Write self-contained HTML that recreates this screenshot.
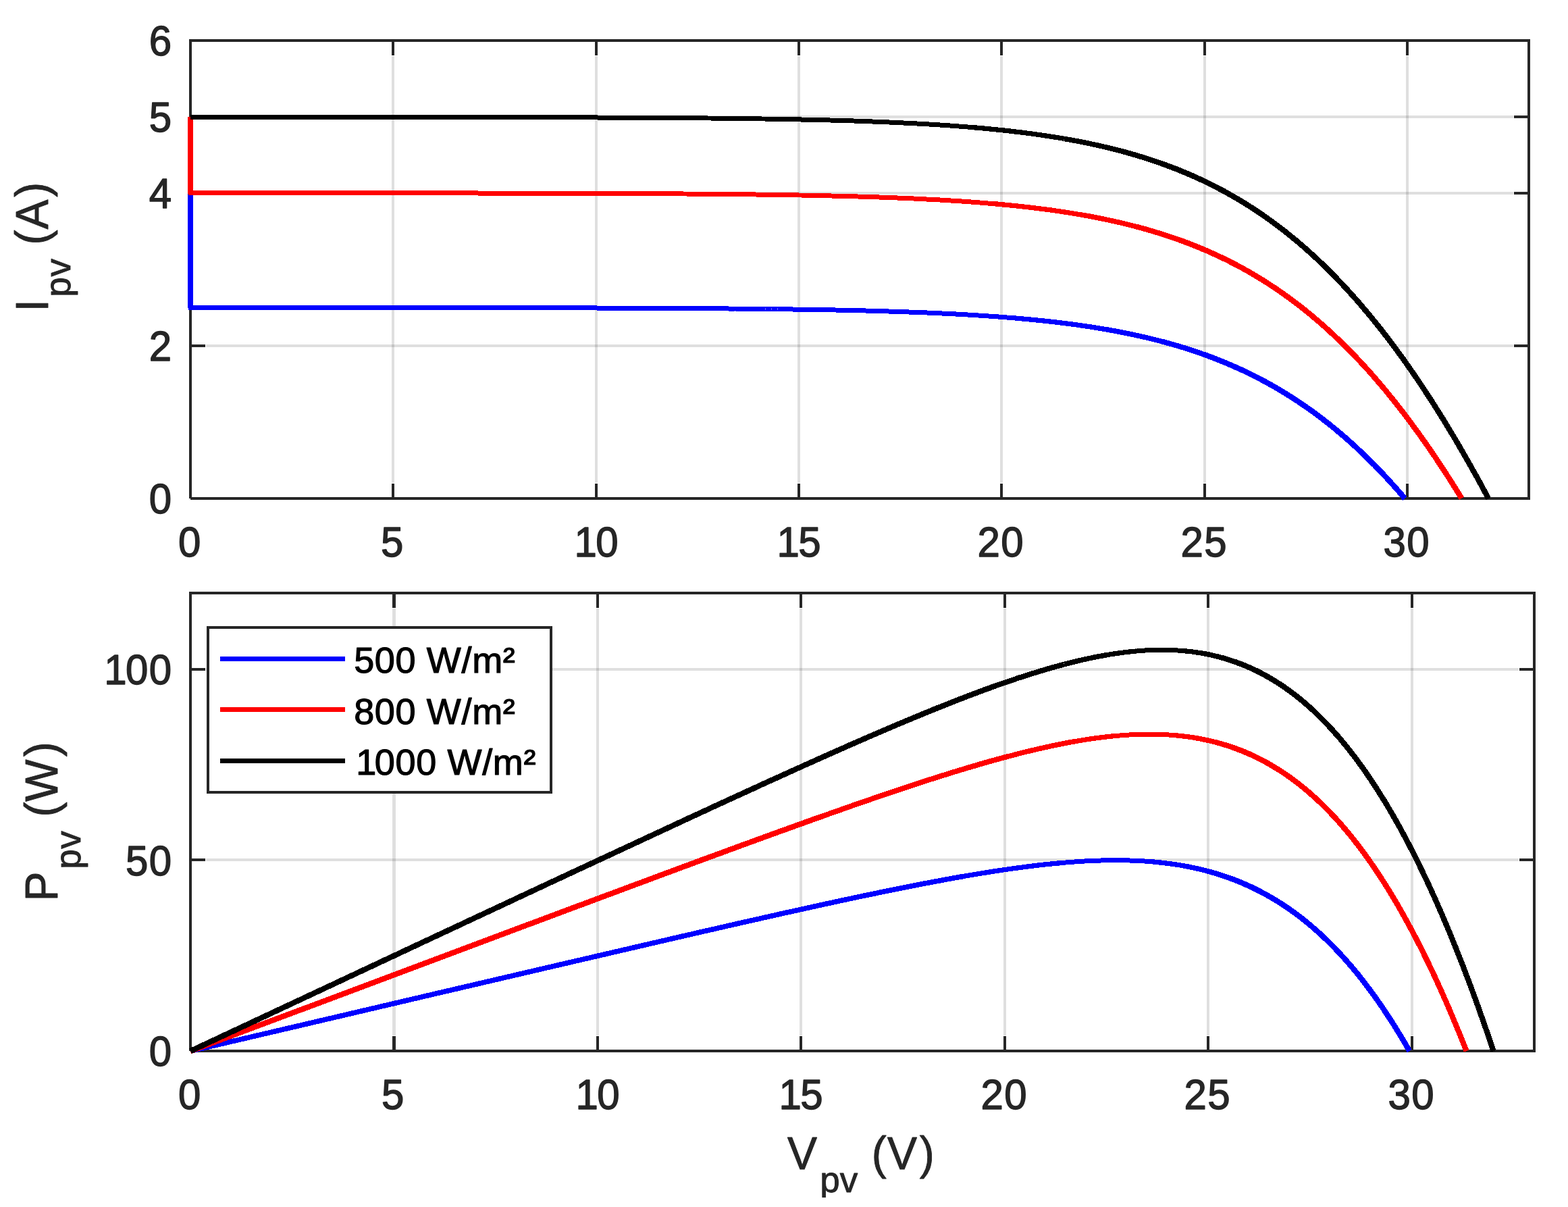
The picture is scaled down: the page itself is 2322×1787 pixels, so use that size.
<!DOCTYPE html>
<html lang="en">
<head>
<meta charset="utf-8">
<title>PV module I-V and P-V characteristics at 500, 800 and 1000 W/m²</title>
<style>
html,body{margin:0;padding:0;background:#fff;}
body{width:2322px;height:1787px;overflow:hidden;}
svg{display:block;}
text{font-family:"Liberation Sans",Arial,Helvetica,sans-serif;white-space:pre;}
.ax{fill:none;stroke:#262626;stroke-width:4;shape-rendering:crispEdges;}
.gr{fill:none;stroke:#262626;stroke-opacity:0.15;stroke-width:4;shape-rendering:crispEdges;}
.cv{fill:none;stroke-linejoin:round;stroke-linecap:butt;shape-rendering:crispEdges;}
</style>
</head>
<body>
<svg width="2322" height="1787" viewBox="0 0 2322 1787">
<rect x="0" y="0" width="2322" height="1787" fill="#ffffff"/>
<g id="iv-axes">
<path class="gr" d="M582,83V715 M883,83V715 M1183,83V715 M1483,83V715 M1784,83V715 M2084,83V715"/>
<path class="gr" d="M305,512H2241 M305,286H2241 M305,173H2241"/>
<path class="ax" d="M582,738v-22M582,60v22 M883,738v-22M883,60v22 M1183,738v-22M1183,60v22 M1483,738v-22M1483,60v22 M1784,738v-22M1784,60v22 M2084,738v-22M2084,60v22"/>
<path class="ax" d="M282,512h22M2264,512h-22 M282,286h22M2264,286h-22 M282,173h22M2264,173h-22"/>
<path class="ax" d="M282,58V738M280,60H2266M2264,58V740M282,738H2266"/>
<path class="cv" stroke="#0000ff" stroke-width="8" d="M282,286.0V456.3"/>
<path class="cv" stroke="#0000ff" stroke-width="7.0" d="M279.3,455.5 282.0,455.5 462.2,455.5 642.4,455.6 822.5,455.8 1002.7,456.4 1007.2,456.5 1011.7,456.5 1016.3,456.5 1020.8,456.5 1025.3,456.6 1029.8,456.6 1034.3,456.6 1038.8,456.7 1043.3,456.7 1047.8,456.7 1052.3,456.8 1056.8,456.8 1061.3,456.8 1065.9,456.9 1070.4,456.9 1074.9,456.9 1079.4,457.0 1083.9,457.0 1088.4,457.0 1092.9,457.1 1097.4,457.1 1101.9,457.2 1106.4,457.2 1111.0,457.2 1115.5,457.3 1120.0,457.3 1124.5,457.4 1129.0,457.4 1133.5,457.5 1138.0,457.5 1142.5,457.6 1147.0,457.6 1151.5,457.7 1156.0,457.7 1160.6,457.8 1165.1,457.9 1169.6,457.9 1174.1,458.0 1178.6,458.0 1183.1,458.1 1187.6,458.2 1192.1,458.2 1196.6,458.3 1201.1,458.4 1205.6,458.5 1210.2,458.5 1214.7,458.6 1219.2,458.7 1223.7,458.8 1228.2,458.9 1232.7,458.9 1237.2,459.0 1241.7,459.1 1246.2,459.2 1250.7,459.3 1255.2,459.4 1259.8,459.5 1264.3,459.6 1268.8,459.7 1273.3,459.8 1277.8,459.9 1282.3,460.0 1286.8,460.2 1291.3,460.3 1295.8,460.4 1300.3,460.5 1304.9,460.7 1309.4,460.8 1313.9,460.9 1318.4,461.1 1322.9,461.2 1327.4,461.3 1331.9,461.5 1336.4,461.6 1340.9,461.8 1345.4,462.0 1349.9,462.1 1354.5,462.3 1359.0,462.5 1363.5,462.6 1368.0,462.8 1372.5,463.0 1377.0,463.2 1381.5,463.4 1386.0,463.6 1390.5,463.8 1395.0,464.0 1399.5,464.2 1404.1,464.5 1408.6,464.7 1413.1,464.9 1417.6,465.1 1422.1,465.4 1426.6,465.6 1431.1,465.9 1435.6,466.2 1440.1,466.4 1444.6,466.7 1449.1,467.0 1453.7,467.3 1458.2,467.6 1462.7,467.9 1467.2,468.2 1471.7,468.5 1476.2,468.8 1480.7,469.2 1485.2,469.5 1489.7,469.9 1494.2,470.2 1498.8,470.6 1503.3,471.0"/><path class="cv" stroke="#0000ff" stroke-width="7.3" d="M1503.3,471.0 1507.8,471.4 1512.3,471.8 1516.8,472.2 1521.3,472.6 1525.8,473.0 1530.3,473.5 1534.8,473.9 1539.3,474.4 1543.8,474.8 1548.4,475.3 1552.9,475.8 1557.4,476.3 1561.9,476.8 1566.4,477.4 1570.9,477.9 1575.4,478.5 1579.9,479.0 1584.4,479.6 1588.9,480.2 1593.4,480.8 1598.0,481.5 1602.5,482.1 1607.0,482.8 1611.5,483.4 1616.0,484.1 1620.5,484.8 1625.0,485.6 1629.5,486.3 1634.0,487.1 1638.5,487.8"/><path class="cv" stroke="#0000ff" stroke-width="7.6" d="M1638.5,487.8 1643.0,488.6 1647.6,489.4 1652.1,490.3 1656.6,491.1 1661.1,492.0 1665.6,492.9 1670.1,493.8 1674.6,494.7 1679.1,495.7 1683.6,496.7 1688.1,497.7 1692.7,498.7 1697.2,499.7 1701.7,500.8 1706.2,501.9 1710.7,503.0 1715.2,504.2 1719.7,505.3"/><path class="cv" stroke="#0000ff" stroke-width="7.9" d="M1719.7,505.3 1724.2,506.5 1728.7,507.8 1733.2,509.0 1737.7,510.3 1742.3,511.6 1746.8,513.0 1751.3,514.3 1755.8,515.7 1760.3,517.2 1764.8,518.6 1769.3,520.1 1773.8,521.6 1778.3,523.2 1782.8,524.8"/><path class="cv" stroke="#0000ff" stroke-width="8.2" d="M1782.8,524.8 1787.3,526.4 1791.9,528.1 1796.4,529.8 1800.9,531.5 1805.4,533.3 1809.9,535.1 1814.4,537.0 1818.9,538.9 1823.4,540.8 1827.9,542.8 1832.4,544.8 1836.9,546.8 1841.5,548.9 1846.0,551.0 1850.5,553.2 1855.0,555.5 1859.5,557.7 1864.0,560.0 1868.5,562.4 1873.0,564.8 1877.5,567.3 1882.0,569.8 1886.6,572.3 1891.1,574.9 1895.6,577.6 1900.1,580.3 1904.6,583.1 1909.1,585.9 1913.6,588.7 1918.1,591.7 1922.6,594.6 1927.1,597.7 1931.6,600.7 1936.2,603.9 1940.7,607.1 1945.2,610.3 1949.7,613.7 1954.2,617.0 1958.7,620.5 1963.2,624.0 1967.7,627.5 1972.2,631.1 1976.7,634.8 1981.2,638.6 1985.8,642.4 1990.3,646.2 1994.8,650.2 1999.3,654.2 2003.8,658.3 2008.3,662.4 2012.8,666.6 2017.3,670.9 2021.8,675.2 2026.3,679.6 2030.8,684.1 2035.4,688.6 2039.9,693.2 2044.4,697.9 2048.9,702.7 2053.4,707.5 2057.9,712.4 2062.4,717.4 2066.9,722.4 2071.4,727.5 2075.9,732.7 2080.5,738.0"/>
<path class="cv" stroke="#ff0000" stroke-width="8" d="M282,173.0V286.8"/>
<path class="cv" stroke="#ff0000" stroke-width="7.0" d="M279.3,285.8 282.0,285.8 462.2,285.8 642.4,285.9 822.5,286.2 1002.7,286.9 1007.6,286.9 1012.4,287.0 1017.3,287.0 1022.2,287.1 1027.0,287.1 1031.9,287.1 1036.8,287.2 1041.6,287.2 1046.5,287.2 1051.3,287.3 1056.2,287.3 1061.1,287.4 1065.9,287.4 1070.8,287.5 1075.6,287.5 1080.5,287.6 1085.4,287.6 1090.2,287.7 1095.1,287.7 1099.9,287.8 1104.8,287.8 1109.7,287.9 1114.5,287.9 1119.4,288.0 1124.2,288.1 1129.1,288.1 1134.0,288.2 1138.8,288.3 1143.7,288.3 1148.6,288.4 1153.4,288.5 1158.3,288.5 1163.1,288.6 1168.0,288.7 1172.9,288.8 1177.7,288.9 1182.6,289.0 1187.4,289.0 1192.3,289.1 1197.2,289.2 1202.0,289.3 1206.9,289.4 1211.7,289.5 1216.6,289.6 1221.5,289.7 1226.3,289.8 1231.2,290.0 1236.0,290.1 1240.9,290.2 1245.8,290.3 1250.6,290.4 1255.5,290.6 1260.4,290.7 1265.2,290.8 1270.1,291.0 1274.9,291.1 1279.8,291.3 1284.7,291.4 1289.5,291.6 1294.4,291.7 1299.2,291.9 1304.1,292.1 1309.0,292.2 1313.8,292.4 1318.7,292.6 1323.5,292.8 1328.4,293.0 1333.3,293.2 1338.1,293.4 1343.0,293.6 1347.8,293.8 1352.7,294.0 1357.6,294.2 1362.4,294.5 1367.3,294.7 1372.1,295.0 1377.0,295.2 1381.9,295.5 1386.7,295.7 1391.6,296.0 1396.5,296.3 1401.3,296.6 1406.2,296.9 1411.0,297.2 1415.9,297.5 1420.8,297.8 1425.6,298.1 1430.5,298.5 1435.3,298.8 1440.2,299.2 1445.1,299.5 1449.9,299.9 1454.8,300.3 1459.6,300.7 1464.5,301.1"/><path class="cv" stroke="#ff0000" stroke-width="7.3" d="M1464.5,301.1 1469.4,301.5 1474.2,301.9 1479.1,302.3 1483.9,302.8 1488.8,303.3 1493.7,303.7 1498.5,304.2 1503.4,304.7 1508.3,305.2 1513.1,305.7 1518.0,306.3 1522.8,306.8 1527.7,307.4 1532.6,308.0 1537.4,308.6 1542.3,309.2 1547.1,309.8 1552.0,310.5 1556.9,311.1 1561.7,311.8 1566.6,312.5 1571.4,313.2 1576.3,314.0 1581.2,314.7 1586.0,315.5 1590.9,316.3 1595.7,317.1 1600.6,317.9"/><path class="cv" stroke="#ff0000" stroke-width="7.6" d="M1600.6,317.9 1605.5,318.8 1610.3,319.6 1615.2,320.5 1620.1,321.4 1624.9,322.4 1629.8,323.4 1634.6,324.3 1639.5,325.4 1644.4,326.4 1649.2,327.5 1654.1,328.6 1658.9,329.7 1663.8,330.8 1668.7,332.0 1673.5,333.2 1678.4,334.4 1683.2,335.7"/><path class="cv" stroke="#ff0000" stroke-width="7.9" d="M1683.2,335.7 1688.1,337.0 1693.0,338.3 1697.8,339.7 1702.7,341.1 1707.5,342.5 1712.4,344.0 1717.3,345.5 1722.1,347.0 1727.0,348.6 1731.8,350.2 1736.7,351.8 1741.6,353.5 1746.4,355.2"/><path class="cv" stroke="#ff0000" stroke-width="8.2" d="M1746.4,355.2 1751.3,357.0 1756.2,358.8 1761.0,360.6 1765.9,362.5 1770.7,364.5 1775.6,366.4 1780.5,368.5 1785.3,370.5 1790.2,372.6 1795.0,374.8 1799.9,377.0 1804.8,379.3 1809.6,381.6 1814.5,383.9 1819.3,386.3 1824.2,388.8 1829.1,391.3 1833.9,393.9 1838.8,396.5 1843.6,399.2 1848.5,401.9 1853.4,404.7 1858.2,407.6 1863.1,410.5 1868.0,413.5 1872.8,416.5 1877.7,419.6 1882.5,422.8 1887.4,426.0 1892.3,429.3 1897.1,432.7 1902.0,436.1 1906.8,439.6 1911.7,443.1 1916.6,446.7 1921.4,450.4 1926.3,454.2 1931.1,458.0 1936.0,462.0 1940.9,465.9 1945.7,470.0 1950.6,474.1 1955.4,478.3 1960.3,482.6 1965.2,487.0 1970.0,491.4 1974.9,495.9 1979.7,500.5 1984.6,505.2 1989.5,509.9 1994.3,514.7 1999.2,519.6 2004.1,524.6 2008.9,529.7 2013.8,534.9 2018.6,540.1 2023.5,545.4 2028.4,550.8 2033.2,556.3 2038.1,561.9 2042.9,567.6 2047.8,573.3 2052.7,579.1 2057.5,585.1 2062.4,591.1 2067.2,597.2 2072.1,603.3 2077.0,609.6 2081.8,616.0 2086.7,622.4 2091.5,629.0 2096.4,635.6 2101.3,642.3 2106.1,649.1 2111.0,656.0 2115.9,663.0 2120.7,670.1 2125.6,677.2 2130.4,684.5 2135.3,691.8 2140.2,699.2 2145.0,706.8 2149.9,714.4 2154.7,722.1 2159.6,729.9 2164.5,737.8"/>
<path class="cv" stroke="#000000" stroke-width="7.0" d="M282.0,173.3 462.2,173.3 642.4,173.4 822.5,173.7 1002.7,174.6 1007.8,174.6 1012.8,174.7 1017.8,174.7 1022.8,174.8 1027.9,174.8 1032.9,174.8 1037.9,174.9 1042.9,174.9 1048.0,175.0 1053.0,175.0 1058.0,175.1 1063.1,175.1 1068.1,175.2 1073.1,175.2 1078.1,175.3 1083.2,175.4 1088.2,175.4 1093.2,175.5 1098.3,175.5 1103.3,175.6 1108.3,175.7 1113.3,175.7 1118.4,175.8 1123.4,175.9 1128.4,176.0 1133.4,176.0 1138.5,176.1 1143.5,176.2 1148.5,176.3 1153.6,176.4 1158.6,176.5 1163.6,176.6 1168.6,176.6 1173.7,176.7 1178.7,176.8 1183.7,176.9 1188.8,177.1 1193.8,177.2 1198.8,177.3 1203.8,177.4 1208.9,177.5 1213.9,177.6 1218.9,177.8 1223.9,177.9 1229.0,178.0 1234.0,178.1 1239.0,178.3 1244.1,178.4 1249.1,178.6 1254.1,178.7 1259.1,178.9 1264.2,179.0 1269.2,179.2 1274.2,179.4 1279.3,179.5 1284.3,179.7 1289.3,179.9 1294.3,180.1 1299.4,180.3 1304.4,180.5 1309.4,180.7 1314.4,180.9 1319.5,181.1 1324.5,181.3 1329.5,181.6 1334.6,181.8 1339.6,182.1 1344.6,182.3 1349.6,182.6 1354.7,182.8 1359.7,183.1 1364.7,183.4 1369.7,183.7 1374.8,183.9 1379.8,184.3 1384.8,184.6 1389.9,184.9 1394.9,185.2 1399.9,185.5 1404.9,185.9 1410.0,186.2 1415.0,186.6 1420.0,187.0 1425.1,187.4 1430.1,187.8 1435.1,188.2 1440.1,188.6"/><path class="cv" stroke="#000000" stroke-width="7.3" d="M1440.1,188.6 1445.2,189.0 1450.2,189.5 1455.2,189.9 1460.2,190.4 1465.3,190.9 1470.3,191.4 1475.3,191.9 1480.4,192.4 1485.4,192.9 1490.4,193.5 1495.4,194.0 1500.5,194.6 1505.5,195.2 1510.5,195.8 1515.6,196.4 1520.6,197.1 1525.6,197.7 1530.6,198.4 1535.7,199.1 1540.7,199.8 1545.7,200.6 1550.7,201.3 1555.8,202.1 1560.8,202.9 1565.8,203.7 1570.9,204.5 1575.9,205.4"/><path class="cv" stroke="#000000" stroke-width="7.6" d="M1575.9,205.4 1580.9,206.3 1585.9,207.2 1591.0,208.1 1596.0,209.1 1601.0,210.0 1606.1,211.0 1611.1,212.1 1616.1,213.1 1621.1,214.2 1626.2,215.3 1631.2,216.5 1636.2,217.6 1641.2,218.8 1646.3,220.1 1651.3,221.3 1656.3,222.6 1661.4,223.9"/><path class="cv" stroke="#000000" stroke-width="7.9" d="M1661.4,223.9 1666.4,225.3 1671.4,226.7 1676.4,228.1 1681.5,229.6 1686.5,231.1 1691.5,232.6 1696.5,234.2 1701.6,235.8 1706.6,237.5 1711.6,239.2 1716.7,240.9 1721.7,242.7"/><path class="cv" stroke="#000000" stroke-width="8.2" d="M1721.7,242.7 1726.7,244.5 1731.7,246.4 1736.8,248.3 1741.8,250.2 1746.8,252.2 1751.9,254.3 1756.9,256.4 1761.9,258.5 1766.9,260.7 1772.0,263.0 1777.0,265.3 1782.0,267.6 1787.0,270.1 1792.1,272.5 1797.1,275.0 1802.1,277.6 1807.2,280.3 1812.2,282.9 1817.2,285.7 1822.2,288.5 1827.3,291.4 1832.3,294.3 1837.3,297.3 1842.4,300.4 1847.4,303.5 1852.4,306.7 1857.4,310.0 1862.5,313.3 1867.5,316.7 1872.5,320.2 1877.5,323.7 1882.6,327.3 1887.6,331.0 1892.6,334.8 1897.7,338.6 1902.7,342.5 1907.7,346.5 1912.7,350.6 1917.8,354.7 1922.8,358.9 1927.8,363.2 1932.9,367.6 1937.9,372.1 1942.9,376.6 1947.9,381.2 1953.0,385.9 1958.0,390.7 1963.0,395.6 1968.0,400.6 1973.1,405.6 1978.1,410.8 1983.1,416.0 1988.2,421.3 1993.2,426.7 1998.2,432.2 2003.2,437.8 2008.3,443.4 2013.3,449.2 2018.3,455.1 2023.3,461.0 2028.4,467.0 2033.4,473.2 2038.4,479.4 2043.5,485.7 2048.5,492.1 2053.5,498.6 2058.5,505.2 2063.6,511.9 2068.6,518.7 2073.6,525.6 2078.7,532.6 2083.7,539.7 2088.7,546.8 2093.7,554.1 2098.8,561.5 2103.8,568.9 2108.8,576.5 2113.8,584.1 2118.9,591.9 2123.9,599.7 2128.9,607.7 2134.0,615.7 2139.0,623.9 2144.0,632.1 2149.0,640.4 2154.1,648.8 2159.1,657.3 2164.1,666.0 2169.2,674.7 2174.2,683.5 2179.2,692.4 2184.2,701.3 2189.3,710.4 2194.3,719.6 2199.3,728.9 2204.3,738.2"/>
<text transform="translate(220.04,760.10) scale(0.96,1.0)" font-size="62.5" fill="#262626" stroke="#262626" stroke-width="1.43" stroke-linejoin="round" x="0.72" y="0">0</text>
<text transform="translate(220.04,534.10) scale(0.96,1.0)" font-size="62.5" fill="#262626" stroke="#262626" stroke-width="1.43" stroke-linejoin="round" x="0.72" y="0">2</text>
<text transform="translate(220.04,308.10) scale(0.96,1.0)" font-size="62.5" fill="#262626" stroke="#262626" stroke-width="1.43" stroke-linejoin="round" x="0.72" y="0">4</text>
<text transform="translate(220.04,195.10) scale(0.96,1.0)" font-size="62.5" fill="#262626" stroke="#262626" stroke-width="1.43" stroke-linejoin="round" x="0.72" y="0">5</text>
<text transform="translate(220.04,82.10) scale(0.96,1.0)" font-size="62.5" fill="#262626" stroke="#262626" stroke-width="1.43" stroke-linejoin="round" x="0.72" y="0">6</text>
<text transform="translate(263.27,823.90) scale(0.96,1.0)" font-size="62.5" fill="#262626" stroke="#262626" stroke-width="1.43" stroke-linejoin="round" x="0.72" y="0">0</text>
<text transform="translate(563.27,823.90) scale(0.96,1.0)" font-size="62.5" fill="#262626" stroke="#262626" stroke-width="1.43" stroke-linejoin="round" x="0.72" y="0">5</text>
<text transform="translate(846.89,823.90) scale(0.96,1.0)" font-size="62.5" fill="#262626" stroke="#262626" stroke-width="1.43" stroke-linejoin="round" x="3.85 36.94" y="0">10</text>
<text transform="translate(1146.89,823.90) scale(0.96,1.0)" font-size="62.5" fill="#262626" stroke="#262626" stroke-width="1.43" stroke-linejoin="round" x="3.85 36.94" y="0">15</text>
<text transform="translate(1446.89,823.90) scale(0.96,1.0)" font-size="62.5" fill="#262626" stroke="#262626" stroke-width="1.43" stroke-linejoin="round" x="0.72 36.94" y="0">20</text>
<text transform="translate(1747.89,823.90) scale(0.96,1.0)" font-size="62.5" fill="#262626" stroke="#262626" stroke-width="1.43" stroke-linejoin="round" x="0.72 36.94" y="0">25</text>
<text transform="translate(2047.89,823.90) scale(0.96,1.0)" font-size="62.5" fill="#262626" stroke="#262626" stroke-width="1.43" stroke-linejoin="round" x="0.72 36.94" y="0">30</text>
<g><text transform="translate(71.00,462.00) rotate(-90) scale(0.96,1.0)" font-size="68.75" fill="#262626" stroke="#262626" stroke-width="0.92" stroke-linejoin="round" x="0.55 103.64 127.49 177.25" y="0">I(A)</text><text transform="translate(104.00,462.00) rotate(-90) scale(1.0,1.0)" font-size="53.0" fill="#262626" stroke="#262626" stroke-width="0.90" stroke-linejoin="round" x="22.18 52.60" y="0">pv</text></g>
</g>
<g id="pv-axes">
<path class="gr" d="M885,901V1533 M1186,901V1533 M1488,901V1533 M1789,901V1533 M2091,901V1533"/>
<path class="gr" style="stroke-width:5" d="M583.5,901V1533"/>
<path class="gr" d="M305,1273H2249 M305,991H2249"/>
<path class="ax" d="M885,1556v-22M885,878v22 M1186,1556v-22M1186,878v22 M1488,1556v-22M1488,878v22 M1789,1556v-22M1789,878v22 M2091,1556v-22M2091,878v22"/>
<path class="ax" style="stroke-width:5" d="M583.5,1556v-22M583.5,878v22"/>
<path class="ax" d="M282,1273h22M2272,1273h-22 M282,991h22M2272,991h-22"/>
<path class="ax" d="M282,876V1556M280,878H2274M2272,876V1558M282,1556H2274"/>
<path class="cv" stroke="#0000ff" stroke-width="7.6" d="M282.0,1556.2 462.9,1513.9 643.7,1471.5 824.6,1429.3 1005.5,1387.3 1010.0,1386.3 1014.5,1385.2 1019.1,1384.2 1023.6,1383.2 1028.1,1382.1 1032.6,1381.1 1037.2,1380.0 1041.7,1379.0 1046.2,1378.0 1050.7,1376.9 1055.3,1375.9 1059.8,1374.9 1064.3,1373.8 1068.9,1372.8 1073.4,1371.8 1077.9,1370.7 1082.4,1369.7 1087.0,1368.7 1091.5,1367.6 1096.0,1366.6 1100.5,1365.6 1105.1,1364.5 1109.6,1363.5 1114.1,1362.5 1118.6,1361.5 1123.2,1360.5 1127.7,1359.4 1132.2,1358.4 1136.7,1357.4 1141.3,1356.4 1145.8,1355.4 1150.3,1354.4 1154.9,1353.3 1159.4,1352.3 1163.9,1351.3 1168.4,1350.3 1173.0,1349.3 1177.5,1348.3 1182.0,1347.3 1186.5,1346.3 1191.1,1345.3 1195.6,1344.3 1200.1,1343.3 1204.6,1342.3 1209.2,1341.3 1213.7,1340.3 1218.2,1339.3 1222.8,1338.3 1227.3,1337.4 1231.8,1336.4 1236.3,1335.4 1240.9,1334.4 1245.4,1333.4 1249.9,1332.5 1254.4,1331.5 1259.0,1330.5 1263.5,1329.6 1268.0,1328.6 1272.5,1327.6 1277.1,1326.7 1281.6,1325.7 1286.1,1324.8 1290.7,1323.8 1295.2,1322.9 1299.7,1322.0 1304.2,1321.0 1308.8,1320.1 1313.3,1319.2 1317.8,1318.2 1322.3,1317.3 1326.9,1316.4 1331.4,1315.5 1335.9,1314.6 1340.4,1313.7 1345.0,1312.8 1349.5,1311.9 1354.0,1311.0 1358.5,1310.1 1363.1,1309.2 1367.6,1308.3 1372.1,1307.5 1376.7,1306.6 1381.2,1305.8 1385.7,1304.9 1390.2,1304.1 1394.8,1303.2 1399.3,1302.4 1403.8,1301.5 1408.3,1300.7 1412.9,1299.9 1417.4,1299.1 1421.9,1298.3 1426.4,1297.5"/><path class="cv" stroke="#0000ff" stroke-width="7.3" d="M1426.4,1297.5 1431.0,1296.7 1435.5,1295.9 1440.0,1295.2 1444.6,1294.4 1449.1,1293.7 1453.6,1292.9 1458.1,1292.2 1462.7,1291.5 1467.2,1290.7 1471.7,1290.0 1476.2,1289.3 1480.8,1288.7 1485.3,1288.0 1489.8,1287.3 1494.3,1286.7 1498.9,1286.0 1503.4,1285.4 1507.9,1284.8 1512.5,1284.2 1517.0,1283.6 1521.5,1283.0 1526.0,1282.4 1530.6,1281.9 1535.1,1281.3 1539.6,1280.8 1544.1,1280.3 1548.7,1279.8 1553.2,1279.3 1557.7,1278.9 1562.2,1278.4 1566.8,1278.0 1571.3,1277.6 1575.8,1277.2"/><path class="cv" stroke="#0000ff" stroke-width="7.0" d="M1575.8,1277.2 1580.3,1276.8 1584.9,1276.4 1589.4,1276.1 1593.9,1275.8 1598.5,1275.5 1603.0,1275.2 1607.5,1274.9 1612.0,1274.7 1616.6,1274.5 1621.1,1274.3 1625.6,1274.1 1630.1,1274.0 1634.7,1273.9 1639.2,1273.8 1643.7,1273.7 1648.2,1273.7 1652.8,1273.7 1657.3,1273.7 1661.8,1273.7 1666.4,1273.8 1670.9,1273.9 1675.4,1274.1 1679.9,1274.2 1684.5,1274.4 1689.0,1274.6 1693.5,1274.9 1698.0,1275.2 1702.6,1275.5 1707.1,1275.9"/><path class="cv" stroke="#0000ff" stroke-width="7.3" d="M1707.1,1275.9 1711.6,1276.3 1716.1,1276.8 1720.7,1277.3 1725.2,1277.8 1729.7,1278.4 1734.3,1279.0 1738.8,1279.6 1743.3,1280.3 1747.8,1281.0 1752.4,1281.8"/><path class="cv" stroke="#0000ff" stroke-width="7.6" d="M1752.4,1281.8 1756.9,1282.7 1761.4,1283.5 1765.9,1284.5 1770.5,1285.4 1775.0,1286.5 1779.5,1287.5 1784.0,1288.7 1788.6,1289.9"/><path class="cv" stroke="#0000ff" stroke-width="7.9" d="M1788.6,1289.9 1793.1,1291.1 1797.6,1292.4 1802.1,1293.8 1806.7,1295.2 1811.2,1296.7 1815.7,1298.2 1820.3,1299.8"/><path class="cv" stroke="#0000ff" stroke-width="8.2" d="M1820.3,1299.8 1824.8,1301.4 1829.3,1303.2 1833.8,1305.0 1838.4,1306.8 1842.9,1308.8 1847.4,1310.8 1851.9,1312.8 1856.5,1315.0 1861.0,1317.2 1865.5,1319.5 1870.0,1321.9 1874.6,1324.3 1879.1,1326.9 1883.6,1329.5 1888.2,1332.2 1892.7,1335.0 1897.2,1337.8 1901.7,1340.8 1906.3,1343.8 1910.8,1347.0 1915.3,1350.2 1919.8,1353.5 1924.4,1356.9 1928.9,1360.4 1933.4,1364.0 1937.9,1367.8 1942.5,1371.6 1947.0,1375.5 1951.5,1379.5 1956.1,1383.6 1960.6,1387.9 1965.1,1392.2 1969.6,1396.6 1974.2,1401.2 1978.7,1405.9 1983.2,1410.7 1987.7,1415.6 1992.3,1420.6 1996.8,1425.8 2001.3,1431.0 2005.8,1436.4 2010.4,1441.9 2014.9,1447.6 2019.4,1453.4 2023.9,1459.3 2028.5,1465.3 2033.0,1471.4 2037.5,1477.7 2042.1,1484.2 2046.6,1490.7 2051.1,1497.5 2055.6,1504.3 2060.2,1511.3 2064.7,1518.4 2069.2,1525.7 2073.7,1533.1 2078.3,1540.7 2082.8,1548.4 2087.3,1556.2"/>
<path class="cv" stroke="#ff0000" stroke-width="8.2" d="M282.0,1556.2 462.9,1488.5 643.7,1420.7 824.6,1353.0 1005.5,1285.7 1010.4,1283.9 1015.2,1282.1 1020.1,1280.3 1025.0,1278.5 1029.9,1276.7 1034.8,1274.9 1039.6,1273.1 1044.5,1271.3 1049.4,1269.5 1054.3,1267.7 1059.2,1265.9 1064.0,1264.2 1068.9,1262.4 1073.8,1260.6 1078.7,1258.8 1083.5,1257.0 1088.4,1255.2 1093.3,1253.4 1098.2,1251.6 1103.1,1249.8 1107.9,1248.1 1112.8,1246.3 1117.7,1244.5 1122.6,1242.7 1127.5,1240.9 1132.3,1239.2 1137.2,1237.4 1142.1,1235.6 1147.0,1233.9 1151.9,1232.1 1156.7,1230.3 1161.6,1228.6 1166.5,1226.8 1171.4,1225.0 1176.3,1223.3 1181.1,1221.5 1186.0,1219.8 1190.9,1218.0 1195.8,1216.3 1200.7,1214.5 1205.5,1212.8 1210.4,1211.1 1215.3,1209.3 1220.2,1207.6"/><path class="cv" stroke="#ff0000" stroke-width="7.9" d="M1220.2,1207.6 1225.1,1205.9 1229.9,1204.1 1234.8,1202.4 1239.7,1200.7 1244.6,1199.0 1249.4,1197.3 1254.3,1195.5 1259.2,1193.8 1264.1,1192.1 1269.0,1190.4 1273.8,1188.7 1278.7,1187.1 1283.6,1185.4 1288.5,1183.7 1293.4,1182.0 1298.2,1180.3 1303.1,1178.7 1308.0,1177.0 1312.9,1175.4 1317.8,1173.7 1322.6,1172.1 1327.5,1170.4 1332.4,1168.8 1337.3,1167.2 1342.2,1165.5 1347.0,1163.9 1351.9,1162.3 1356.8,1160.7 1361.7,1159.1 1366.6,1157.5 1371.4,1156.0 1376.3,1154.4 1381.2,1152.8 1386.1,1151.3 1391.0,1149.7 1395.8,1148.2 1400.7,1146.7 1405.6,1145.1 1410.5,1143.6 1415.3,1142.1 1420.2,1140.6 1425.1,1139.2 1430.0,1137.7 1434.9,1136.2 1439.7,1134.8 1444.6,1133.4 1449.5,1131.9 1454.4,1130.5 1459.3,1129.1 1464.1,1127.7 1469.0,1126.4 1473.9,1125.0 1478.8,1123.7 1483.7,1122.3 1488.5,1121.0 1493.4,1119.7"/><path class="cv" stroke="#ff0000" stroke-width="7.6" d="M1493.4,1119.7 1498.3,1118.5 1503.2,1117.2 1508.1,1115.9 1512.9,1114.7 1517.8,1113.5 1522.7,1112.3 1527.6,1111.1 1532.5,1110.0 1537.3,1108.8 1542.2,1107.7 1547.1,1106.6 1552.0,1105.6 1556.8,1104.5 1561.7,1103.5 1566.6,1102.5 1571.5,1101.5 1576.4,1100.5 1581.2,1099.6 1586.1,1098.7 1591.0,1097.8"/><path class="cv" stroke="#ff0000" stroke-width="7.3" d="M1591.0,1097.8 1595.9,1097.0 1600.8,1096.2 1605.6,1095.4 1610.5,1094.6 1615.4,1093.9 1620.3,1093.2 1625.2,1092.5 1630.0,1091.9 1634.9,1091.3 1639.8,1090.7 1644.7,1090.2 1649.6,1089.7 1654.4,1089.3"/><path class="cv" stroke="#ff0000" stroke-width="7.0" d="M1654.4,1089.3 1659.3,1088.9 1664.2,1088.5 1669.1,1088.2 1674.0,1087.9 1678.8,1087.6 1683.7,1087.4 1688.6,1087.3 1693.5,1087.2 1698.4,1087.1 1703.2,1087.1 1708.1,1087.1 1713.0,1087.2 1717.9,1087.3 1722.7,1087.5 1727.6,1087.8 1732.5,1088.1 1737.4,1088.5"/><path class="cv" stroke="#ff0000" stroke-width="7.3" d="M1737.4,1088.5 1742.3,1088.9 1747.1,1089.4 1752.0,1089.9 1756.9,1090.5 1761.8,1091.2 1766.7,1091.9 1771.5,1092.7"/><path class="cv" stroke="#ff0000" stroke-width="7.6" d="M1771.5,1092.7 1776.4,1093.6 1781.3,1094.6 1786.2,1095.6 1791.1,1096.7 1795.9,1097.8 1800.8,1099.1"/><path class="cv" stroke="#ff0000" stroke-width="7.9" d="M1800.8,1099.1 1805.7,1100.4 1810.6,1101.8 1815.5,1103.3 1820.3,1104.9 1825.2,1106.5"/><path class="cv" stroke="#ff0000" stroke-width="8.2" d="M1825.2,1106.5 1830.1,1108.3 1835.0,1110.1 1839.9,1112.0 1844.7,1114.0 1849.6,1116.1 1854.5,1118.3 1859.4,1120.6 1864.2,1123.0 1869.1,1125.5 1874.0,1128.1 1878.9,1130.8 1883.8,1133.7 1888.6,1136.6 1893.5,1139.6 1898.4,1142.8 1903.3,1146.0 1908.2,1149.4 1913.0,1152.9 1917.9,1156.5 1922.8,1160.3 1927.7,1164.1 1932.6,1168.1 1937.4,1172.2 1942.3,1176.5 1947.2,1180.9 1952.1,1185.4 1957.0,1190.0 1961.8,1194.8 1966.7,1199.8 1971.6,1204.8 1976.5,1210.0 1981.4,1215.4 1986.2,1220.9 1991.1,1226.6 1996.0,1232.4 2000.9,1238.3 2005.8,1244.5 2010.6,1250.7 2015.5,1257.2 2020.4,1263.8 2025.3,1270.5 2030.1,1277.4 2035.0,1284.5 2039.9,1291.7 2044.8,1299.2 2049.7,1306.8 2054.5,1314.5 2059.4,1322.5 2064.3,1330.6 2069.2,1338.8 2074.1,1347.3 2078.9,1356.0 2083.8,1364.8 2088.7,1373.8 2093.6,1383.0 2098.5,1392.4 2103.3,1401.9 2108.2,1411.7 2113.1,1421.6 2118.0,1431.8 2122.9,1442.1 2127.7,1452.6 2132.6,1463.3 2137.5,1474.3 2142.4,1485.4 2147.3,1496.7 2152.1,1508.2 2157.0,1519.9 2161.9,1531.8 2166.8,1543.9 2171.7,1556.2"/>
<path class="cv" stroke="#000000" stroke-width="8.2" d="M282.0,1556.2 462.9,1471.5 643.7,1386.8 824.6,1302.2 1005.5,1218.1 1010.5,1215.7 1015.6,1213.4 1020.6,1211.0 1025.7,1208.7 1030.7,1206.4 1035.8,1204.1 1040.8,1201.7 1045.9,1199.4 1050.9,1197.1 1055.9,1194.7 1061.0,1192.4 1066.0,1190.1 1071.1,1187.8 1076.1,1185.5 1081.2,1183.1 1086.2,1180.8 1091.3,1178.5 1096.3,1176.2 1101.4,1173.9 1106.4,1171.6 1111.5,1169.3 1116.5,1167.0 1121.6,1164.6 1126.6,1162.3 1131.7,1160.0 1136.7,1157.7 1141.7,1155.4 1146.8,1153.2 1151.8,1150.9 1156.9,1148.6 1161.9,1146.3 1167.0,1144.0 1172.0,1141.7 1177.1,1139.4 1182.1,1137.2 1187.2,1134.9 1192.2,1132.6 1197.3,1130.4 1202.3,1128.1 1207.4,1125.8 1212.4,1123.6 1217.4,1121.3 1222.5,1119.1 1227.5,1116.8 1232.6,1114.6 1237.6,1112.3 1242.7,1110.1 1247.7,1107.9 1252.8,1105.7 1257.8,1103.4 1262.9,1101.2 1267.9,1099.0 1273.0,1096.8 1278.0,1094.6 1283.1,1092.4 1288.1,1090.2 1293.2,1088.0 1298.2,1085.9 1303.2,1083.7 1308.3,1081.5 1313.3,1079.4 1318.4,1077.2 1323.4,1075.1 1328.5,1072.9 1333.5,1070.8 1338.6,1068.7 1343.6,1066.6 1348.7,1064.5 1353.7,1062.4 1358.8,1060.3 1363.8,1058.2 1368.9,1056.1 1373.9,1054.0 1379.0,1052.0 1384.0,1049.9 1389.0,1047.9 1394.1,1045.9 1399.1,1043.9 1404.2,1041.9 1409.2,1039.9 1414.3,1037.9 1419.3,1035.9 1424.4,1034.0 1429.4,1032.0 1434.5,1030.1 1439.5,1028.2 1444.6,1026.3 1449.6,1024.4 1454.7,1022.5 1459.7,1020.7 1464.7,1018.9 1469.8,1017.0 1474.8,1015.2"/><path class="cv" stroke="#000000" stroke-width="7.9" d="M1474.8,1015.2 1479.9,1013.4 1484.9,1011.7 1490.0,1009.9 1495.0,1008.2 1500.1,1006.5 1505.1,1004.8 1510.2,1003.1 1515.2,1001.5 1520.3,999.8 1525.3,998.2 1530.4,996.7 1535.4,995.1 1540.5,993.6 1545.5,992.1 1550.5,990.6 1555.6,989.1 1560.6,987.7 1565.7,986.3 1570.7,984.9 1575.8,983.6"/><path class="cv" stroke="#000000" stroke-width="7.6" d="M1575.8,983.6 1580.8,982.3 1585.9,981.0 1590.9,979.8 1596.0,978.5 1601.0,977.4 1606.1,976.2 1611.1,975.1 1616.2,974.1 1621.2,973.0 1626.2,972.0 1631.3,971.1 1636.3,970.2"/><path class="cv" stroke="#000000" stroke-width="7.3" d="M1636.3,970.2 1641.4,969.3 1646.4,968.5 1651.5,967.7 1656.5,967.0 1661.6,966.3 1666.6,965.7 1671.7,965.1 1676.7,964.5 1681.8,964.1"/><path class="cv" stroke="#000000" stroke-width="7.0" d="M1681.8,964.1 1686.8,963.6 1691.9,963.3 1696.9,962.9 1702.0,962.7 1707.0,962.5 1712.0,962.3 1717.1,962.3 1722.1,962.2 1727.2,962.3 1732.2,962.4 1737.3,962.6 1742.3,962.9 1747.4,963.2 1752.4,963.6"/><path class="cv" stroke="#000000" stroke-width="7.3" d="M1752.4,963.6 1757.5,964.1 1762.5,964.6 1767.6,965.2 1772.6,966.0 1777.7,966.7 1782.7,967.6"/><path class="cv" stroke="#000000" stroke-width="7.6" d="M1782.7,967.6 1787.7,968.6 1792.8,969.6 1797.8,970.8 1802.9,972.0 1807.9,973.3"/><path class="cv" stroke="#000000" stroke-width="7.9" d="M1807.9,973.3 1813.0,974.7 1818.0,976.2 1823.1,977.9 1828.1,979.6"/><path class="cv" stroke="#000000" stroke-width="8.2" d="M1828.1,979.6 1833.2,981.4 1838.2,983.3 1843.3,985.3 1848.3,987.5 1853.4,989.7 1858.4,992.1 1863.5,994.5 1868.5,997.1 1873.5,999.8 1878.6,1002.7 1883.6,1005.6 1888.7,1008.7 1893.7,1011.9 1898.8,1015.2 1903.8,1018.7 1908.9,1022.3 1913.9,1026.0 1919.0,1029.9 1924.0,1033.9 1929.1,1038.1 1934.1,1042.4 1939.2,1046.8 1944.2,1051.4 1949.2,1056.2 1954.3,1061.1 1959.3,1066.2 1964.4,1071.4 1969.4,1076.7 1974.5,1082.3 1979.5,1088.0 1984.6,1093.8 1989.6,1099.9 1994.7,1106.1 1999.7,1112.4 2004.8,1119.0 2009.8,1125.7 2014.9,1132.6 2019.9,1139.6 2025.0,1146.9 2030.0,1154.3 2035.0,1162.0 2040.1,1169.8 2045.1,1177.8 2050.2,1185.9 2055.2,1194.3 2060.3,1202.9 2065.3,1211.6 2070.4,1220.6 2075.4,1229.7 2080.5,1239.1 2085.5,1248.6 2090.6,1258.4 2095.6,1268.4 2100.7,1278.5 2105.7,1288.9 2110.8,1299.5 2115.8,1310.2 2120.8,1321.2 2125.9,1332.4 2130.9,1343.9 2136.0,1355.5 2141.0,1367.3 2146.1,1379.4 2151.1,1391.7 2156.2,1404.2 2161.2,1416.9 2166.3,1429.8 2171.3,1443.0 2176.4,1456.3 2181.4,1469.9 2186.5,1483.8 2191.5,1497.8 2196.5,1512.1 2201.6,1526.6 2206.6,1541.3 2211.7,1556.2"/>
<text transform="translate(220.04,1578.10) scale(0.96,1.0)" font-size="62.5" fill="#262626" stroke="#262626" stroke-width="1.43" stroke-linejoin="round" x="0.72" y="0">0</text>
<text transform="translate(185.28,1296.10) scale(0.96,1.0)" font-size="62.5" fill="#262626" stroke="#262626" stroke-width="1.43" stroke-linejoin="round" x="0.72 36.94" y="0">50</text>
<text transform="translate(150.51,1013.10) scale(0.96,1.0)" font-size="62.5" fill="#262626" stroke="#262626" stroke-width="1.43" stroke-linejoin="round" x="3.85 36.94 73.15" y="0">100</text>
<text transform="translate(263.27,1641.60) scale(0.96,1.0)" font-size="62.5" fill="#262626" stroke="#262626" stroke-width="1.43" stroke-linejoin="round" x="0.72" y="0">0</text>
<text transform="translate(564.27,1641.60) scale(0.96,1.0)" font-size="62.5" fill="#262626" stroke="#262626" stroke-width="1.43" stroke-linejoin="round" x="0.72" y="0">5</text>
<text transform="translate(848.89,1641.60) scale(0.96,1.0)" font-size="62.5" fill="#262626" stroke="#262626" stroke-width="1.43" stroke-linejoin="round" x="3.85 36.94" y="0">10</text>
<text transform="translate(1149.89,1641.60) scale(0.96,1.0)" font-size="62.5" fill="#262626" stroke="#262626" stroke-width="1.43" stroke-linejoin="round" x="3.85 36.94" y="0">15</text>
<text transform="translate(1451.89,1641.60) scale(0.96,1.0)" font-size="62.5" fill="#262626" stroke="#262626" stroke-width="1.43" stroke-linejoin="round" x="0.72 36.94" y="0">20</text>
<text transform="translate(1752.89,1641.60) scale(0.96,1.0)" font-size="62.5" fill="#262626" stroke="#262626" stroke-width="1.43" stroke-linejoin="round" x="0.72 36.94" y="0">25</text>
<text transform="translate(2054.89,1641.60) scale(0.96,1.0)" font-size="62.5" fill="#262626" stroke="#262626" stroke-width="1.43" stroke-linejoin="round" x="0.72 36.94" y="0">30</text>
<g><text transform="translate(84.80,1335.00) rotate(-90) scale(0.96,1.0)" font-size="68.75" fill="#262626" stroke="#262626" stroke-width="0.92" stroke-linejoin="round" x="0.64 130.78 154.55 223.66" y="0">P(W)</text><text transform="translate(118.80,1335.00) rotate(-90) scale(1.0,1.0)" font-size="53.0" fill="#262626" stroke="#262626" stroke-width="0.90" stroke-linejoin="round" x="48.28 78.15" y="0">pv</text></g>
<clipPath id="cx"><rect x="1100" y="1660" width="400" height="113"/></clipPath>
<g clip-path="url(#cx)"><text transform="translate(1166.00,1730.70) scale(0.96,1.0)" font-size="68.75" fill="#262626" stroke="#262626" stroke-width="0.92" stroke-linejoin="round" x="0.11 130.05 154.22 204.02" y="0">V(V)</text><text transform="translate(1166.00,1764.70) scale(1.0,1.0)" font-size="53.0" fill="#262626" stroke="#262626" stroke-width="0.90" stroke-linejoin="round" x="48.23 77.80" y="0">pv</text></g>
<g id="legend">
<rect class="ax" x="308" y="929" width="508" height="244" style="fill:#ffffff"/>
<path class="cv" stroke="#0000ff" stroke-width="7" d="M326,975.5H511"/>
<text transform="translate(523.80,995.90) scale(0.978,0.969)" font-size="55.2" fill="#000000" stroke="#000000" stroke-width="1.23" stroke-linejoin="round" x="0.35 31.74 63.13 94.35 110.44 163.30 179.32 226.03" y="0">500 W/m²</text>
<path class="cv" stroke="#ff0000" stroke-width="7" d="M326,1050.5H511"/>
<text transform="translate(523.80,1071.70) scale(0.978,0.969)" font-size="55.2" fill="#000000" stroke="#000000" stroke-width="1.23" stroke-linejoin="round" x="0.35 31.74 63.13 94.35 110.44 163.30 179.32 226.03" y="0">800 W/m²</text>
<path class="cv" stroke="#000000" stroke-width="7" d="M326,1126.5H511"/>
<text transform="translate(523.80,1147.30) scale(0.978,0.969)" font-size="55.2" fill="#000000" stroke="#000000" stroke-width="1.23" stroke-linejoin="round" x="3.41 31.74 63.13 94.52 125.74 141.84 194.69 210.72 257.42" y="0">1000 W/m²</text>
</g>
</g>
</svg>
</body>
</html>
